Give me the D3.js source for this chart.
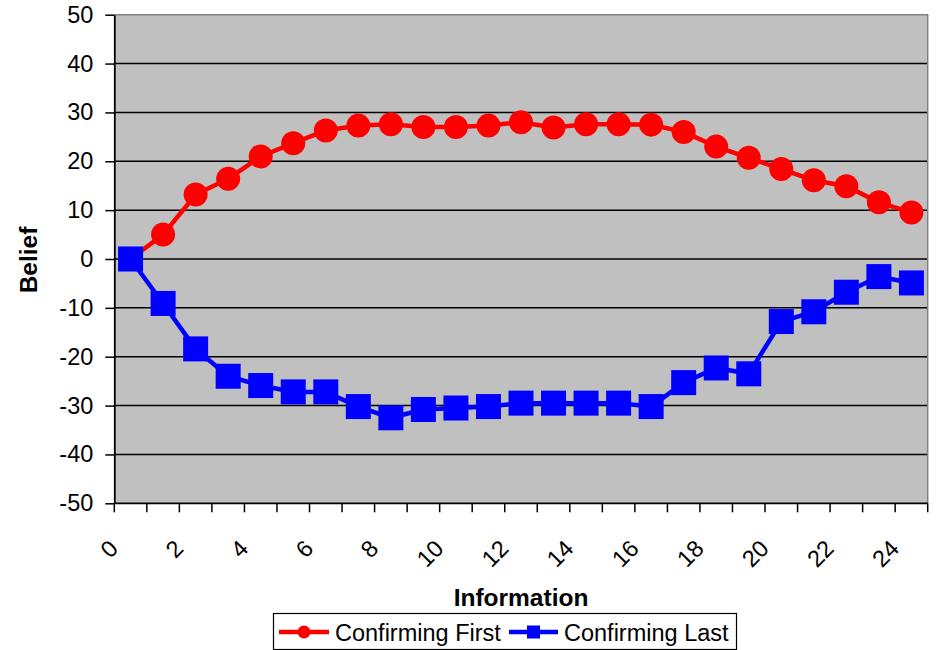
<!DOCTYPE html>
<html>
<head>
<meta charset="utf-8">
<script src="https://cdn.jsdelivr.net/npm/d3@7"></script>
<style>
  html, body { margin: 0; padding: 0; background: #fff; }
  svg { display: block; font-family: Arial, "Liberation Sans", sans-serif; }
</style>
</head>
<body>
<svg id="chart" width="937" height="650"></svg>
<script>
// Category labels along the x axis (0..24)
const categories = d3.range(0, 25);
// Belief over successive pieces of information
const confirmingFirst = [0, 5.0, 13.2, 16.4, 21.0, 23.7, 26.3, 27.3, 27.6, 27.0, 27.0, 27.3, 28.0, 26.9, 27.6, 27.6, 27.5, 26.0, 23.0, 20.7, 18.4, 16.1, 14.9, 11.6, 9.5];
const confirmingLast = [0, -9.1, -18.4, -24.0, -25.9, -27.2, -27.2, -30.2, -32.5, -30.8, -30.5, -30.2, -29.5, -29.5, -29.5, -29.5, -30.2, -25.3, -22.3, -23.5, -12.8, -10.8, -6.8, -3.6, -4.9];
const yTicks = [-50, -40, -30, -20, -10, 0, 10, 20, 30, 40, 50];
const xLabelCats = [0, 2, 4, 6, 8, 10, 12, 14, 16, 18, 20, 22, 24];
const seriesNames = ["Confirming First", "Confirming Last"];

const svg = d3.select("#chart");
const plot = { left: 114.3, right: 927.7, top: 14.7, bottom: 503.3 };
const fs = 23.5;      // tick and legend text size
const titleFs = 24.5; // axis title size

const x = d3.scaleBand().domain(categories).range([plot.left, plot.right]).paddingInner(0).paddingOuter(0);
const y = d3.scaleLinear().domain([-50, 50]).range([plot.bottom, plot.top]);
const cx = c => x(c) + x.bandwidth() / 2;

// plot background
svg.append("rect")
  .attr("x", plot.left).attr("y", plot.top)
  .attr("width", plot.right - plot.left).attr("height", plot.bottom - plot.top)
  .attr("fill", "#C0C0C0");

// horizontal gridlines
svg.append("g").selectAll("line")
  .data(yTicks.filter(v => v !== -50 && v !== 50))
  .join("line")
  .attr("x1", plot.left).attr("x2", plot.right)
  .attr("y1", d => y(d)).attr("y2", d => y(d))
  .attr("stroke", "#000").attr("stroke-width", 1.5);

// gray plot border on top and right
svg.append("path")
  .attr("d", `M${plot.left},${plot.top}H${plot.right}V${plot.bottom}`)
  .attr("fill", "none").attr("stroke", "#808080").attr("stroke-width", 1.5);

// y axis (plain hyphen for negative numbers)
const yAxis = svg.append("g")
  .attr("transform", `translate(${plot.left},0)`)
  .call(d3.axisLeft(y).tickValues(yTicks).tickFormat(d => String(d))
    .tickSize(9).tickPadding(12).tickSizeOuter(0));
yAxis.select(".domain").attr("stroke", "#000").attr("stroke-width", 1.8);
yAxis.selectAll(".tick line").attr("stroke", "#000").attr("stroke-width", 1.5);
yAxis.selectAll(".tick text")
  .attr("font-size", fs).attr("fill", "#000")
  .attr("font-family", "Arial, 'Liberation Sans', sans-serif");

// x axis: ticks on every category boundary
const xAxisG = svg.append("g");
xAxisG.append("line")
  .attr("x1", plot.left).attr("x2", plot.right)
  .attr("y1", plot.bottom).attr("y2", plot.bottom)
  .attr("stroke", "#000").attr("stroke-width", 1.8);
const boundaries = categories.map(c => x(c)).concat([x(categories[categories.length - 1]) + x.bandwidth()]);
xAxisG.selectAll("line.tk").data(boundaries).join("line")
  .attr("class", "tk")
  .attr("x1", d => d).attr("x2", d => d)
  .attr("y1", plot.bottom).attr("y2", plot.bottom + 9)
  .attr("stroke", "#000").attr("stroke-width", 1.5);
xAxisG.selectAll("text").data(xLabelCats).join("text")
  .attr("transform", d => `translate(${cx(d) - 11},550) rotate(-45)`)
  .attr("text-anchor", "end")
  .attr("font-size", fs).attr("fill", "#000")
  .text(d => d);

// axis titles
svg.append("text")
  .attr("transform", "translate(37,260) rotate(-90)")
  .attr("text-anchor", "middle")
  .attr("font-size", titleFs).attr("font-weight", "bold")
  .text("Belief");
svg.append("text")
  .attr("x", 521).attr("y", 606)
  .attr("text-anchor", "middle")
  .attr("font-size", titleFs).attr("font-weight", "bold")
  .text("Information");

// series
const line = d3.line().x((d, i) => cx(categories[i])).y(d => y(d));

svg.append("path").datum(confirmingFirst)
  .attr("d", line).attr("fill", "none")
  .attr("stroke", "#FF0000").attr("stroke-width", 4.5);
svg.append("g").selectAll("circle").data(confirmingFirst).join("circle")
  .attr("cx", (d, i) => cx(categories[i])).attr("cy", d => y(d))
  .attr("r", 12).attr("fill", "#FF0000");

svg.append("path").datum(confirmingLast)
  .attr("d", line).attr("fill", "none")
  .attr("stroke", "#0000FF").attr("stroke-width", 4.5);
const sq = 25;
svg.append("g").selectAll("rect").data(confirmingLast).join("rect")
  .attr("x", (d, i) => cx(categories[i]) - sq / 2).attr("y", d => y(d) - sq / 2)
  .attr("width", sq).attr("height", sq).attr("fill", "#0000FF");

// legend
const legend = svg.append("g");
legend.append("rect")
  .attr("x", 273.5).attr("y", 613.5).attr("width", 463).attr("height", 36)
  .attr("fill", "#fff").attr("stroke", "#000").attr("stroke-width", 1.2);
const ly = 632;
const items = [
  { name: seriesNames[0], color: "#FF0000", shape: "circle", x0: 279, x1: 329, tx: 335 },
  { name: seriesNames[1], color: "#0000FF", shape: "square", x0: 509, x1: 558, tx: 564 }
];
items.forEach(it => {
  legend.append("line")
    .attr("x1", it.x0).attr("x2", it.x1).attr("y1", ly).attr("y2", ly)
    .attr("stroke", it.color).attr("stroke-width", 4.5);
  const mx = (it.x0 + it.x1) / 2;
  if (it.shape === "circle") {
    legend.append("circle").attr("cx", mx).attr("cy", ly).attr("r", 6.5).attr("fill", it.color);
  } else {
    legend.append("rect").attr("x", mx - 6.5).attr("y", ly - 6.5).attr("width", 13).attr("height", 13).attr("fill", it.color);
  }
  legend.append("text")
    .attr("x", it.tx).attr("y", ly + 8.5)
    .attr("font-size", fs).attr("fill", "#000")
    .text(it.name);
});
</script>
</body>
</html>
